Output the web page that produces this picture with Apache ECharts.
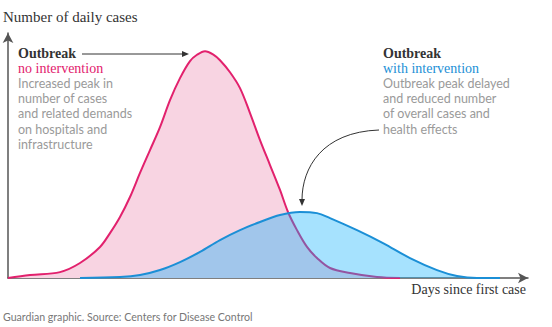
<!DOCTYPE html>
<html>
<head>
<meta charset="utf-8">
<script src="https://cdn.jsdelivr.net/npm/echarts@6/dist/echarts.min.js"></script>
<style>
html,body{margin:0;padding:0;background:#fff;}
#chart{width:552px;height:327px;}
</style>
</head>
<body>
<div id="chart"></div>
<script>
// Days since first case / number of daily cases (peak of no-intervention curve = 100)
const noInterventionDays = [0, 4.4, 10.4, 14.4, 18.4, 20.4, 22.4, 24.4, 26.4, 28.4, 30.4, 32.4, 34.4, 36.4, 37.8, 39.4, 41, 42.4, 44.4, 46.4, 48.4, 50.4, 52.4, 54.4, 56, 57.8, 59.8, 61.8, 64.4, 68.4, 73.8, 78.4];
const noInterventionCases = [0, 1.3, 2.6, 6.6, 13.7, 19.8, 26.9, 35.7, 46.3, 56.4, 66.5, 78.4, 88.1, 95.6, 98.4, 100, 98.6, 96.0, 90.7, 83.7, 72.7, 60.8, 49.8, 38.8, 29.1, 21.1, 13.7, 8.8, 4.4, 2.2, 0.4, 0];
const withInterventionDays = [14.4, 22.4, 26.4, 30.4, 34.4, 38.4, 42.4, 46.4, 50.4, 54.4, 58.4, 61.8, 64.4, 69.8, 75, 80.4, 85.8, 89.8, 93.8, 98.4];
const withInterventionCases = [0, 0.4, 1.3, 3.5, 7.0, 11.5, 16.7, 21.1, 24.7, 27.8, 29.1, 28.6, 26.4, 21.1, 15.4, 8.8, 3.5, 0.9, 0, 0];

const yAxisTitle = 'Number of daily cases';
const xAxisTitle = 'Days since first case';
const sourceText = 'Guardian graphic. Source: Centers for Disease Control';
const leftNote = ['Outbreak', 'no intervention', 'Increased peak in', 'number of cases', 'and related demands', 'on hospitals and', 'infrastructure'];
const rightNote = ['Outbreak', 'with intervention', 'Outbreak peak delayed', 'and reduced number', 'of overall cases and', 'health effects'];

const pair = (xs, ys) => xs.map((x, i) => [x, ys[i]]);

const PINK = '#e2216d', PINK_FILL = '#f8d4e2', BLUE = '#1b8fd6';
const SERIF = '"Liberation Serif", serif';
const SANS = 'Lato, sans-serif';

function noteTexts(lines, x, y0, accent) {
  const out = [];
  out.push({type:'text', left:x, top:y0-5, style:{text:lines[0], fill:'#333', font:'bold 14px ' + SERIF}});
  out.push({type:'text', left:x, top:y0+16.5-6.5, style:{text:lines[1], fill:accent, font:'14px ' + SERIF}});
  for (let i = 2; i < lines.length; i++) {
    out.push({type:'text', left:x, top:y0 + 33 + (i-2)*15.4 - 7.5, style:{text:lines[i], fill:'#9a9a9a', font:'12.5px ' + SANS}});
  }
  return out;
}

const chart = echarts.init(document.getElementById('chart'), null, {renderer:'svg'});
const axisLine = {show:true, symbol:['none','arrow'], symbolSize:[8,10], lineStyle:{color:'#555', width:1.5}};
chart.setOption({
  animation:false,
  grid:{left:8, right:24, top:33, bottom:49},
  xAxis:{type:'value', min:0, max:104, axisLine:axisLine, axisTick:{show:false}, axisLabel:{show:false}, splitLine:{show:false}},
  yAxis:{type:'value', min:0, max:108, axisLine:axisLine, axisTick:{show:false}, axisLabel:{show:false}, splitLine:{show:false}},
  series:[
    {type:'line', data:pair(noInterventionDays, noInterventionCases), smooth:0.35, showSymbol:false,
     lineStyle:{color:PINK, width:2}, areaStyle:{color:PINK_FILL, opacity:1}, z:2},
    {type:'line', data:pair(withInterventionDays, withInterventionCases), smooth:0.35, showSymbol:false,
     lineStyle:{color:BLUE, width:2}, areaStyle:{color:'rgba(10,176,253,0.52)'}, z:3}
  ],
  graphic:[
    {type:'text', left:3, top:9, style:{text:yAxisTitle, fill:'#333', font:'15px ' + SERIF}},
    {type:'text', right:26, top:282, style:{text:xAxisTitle, fill:'#333', font:'14px ' + SERIF}},
    {type:'text', left:3, top:311, style:{text:sourceText, fill:'#777', font:'10.6px ' + SANS}},
    ...noteTexts(leftNote, 18, 51, PINK),
    ...noteTexts(rightNote, 383, 51, BLUE),
    {type:'line', shape:{x1:82, y1:54, x2:184, y2:54}, style:{stroke:'#333', lineWidth:1}, z:10},
    {type:'polygon', shape:{points:[[189,54],[182,51],[182,57]]}, style:{fill:'#333'}, z:10},
    {type:'bezierCurve', shape:{x1:379, y1:130, cpx1:322, cpy1:132, cpx2:302, cpy2:168, x2:302, y2:200}, style:{stroke:'#333', lineWidth:1, fill:null}, z:10},
    {type:'polygon', shape:{points:[[302,206],[299,199],[305,199]]}, style:{fill:'#333'}, z:10}
  ]
});
</script>
</body>
</html>
